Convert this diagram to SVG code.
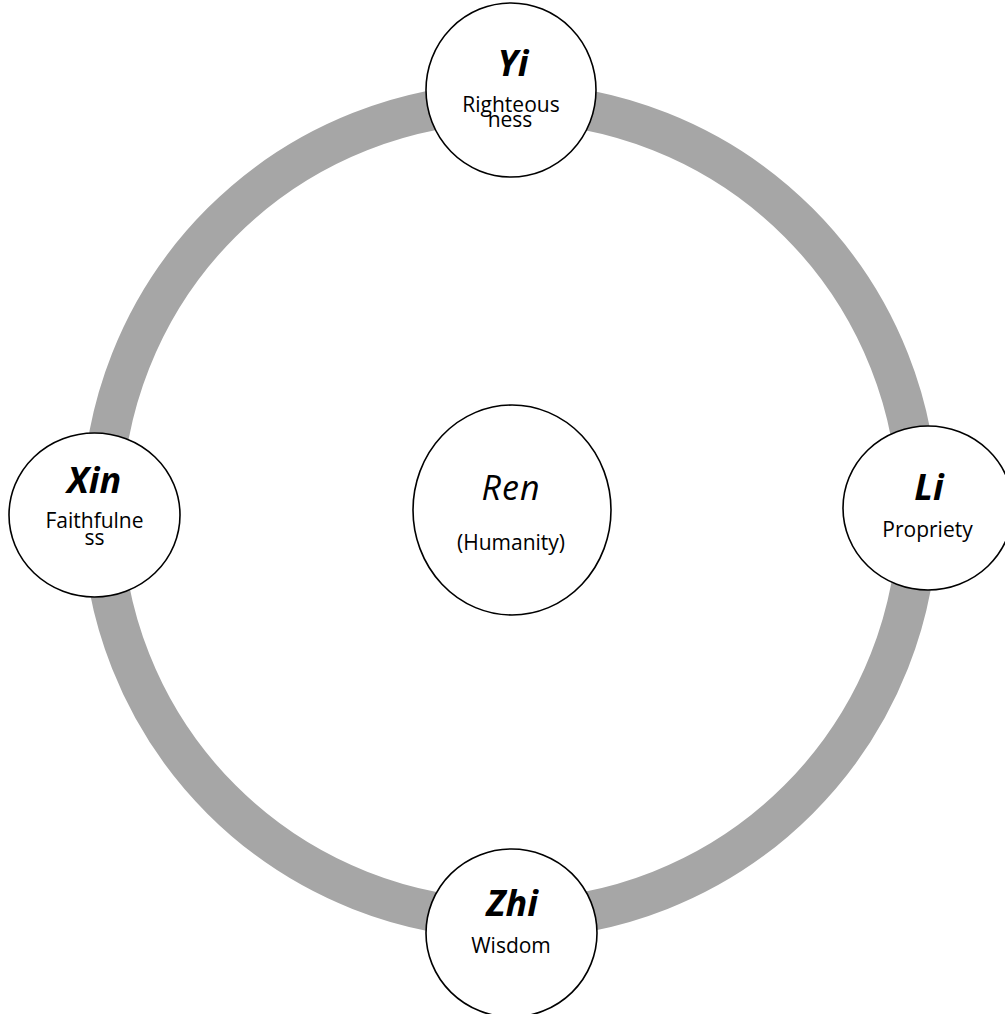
<svg xmlns="http://www.w3.org/2000/svg" width="1005" height="1014" viewBox="0 0 1005 1014">
<style>
.node{fill:#ffffff;stroke:#000000;stroke-width:1.6}
.t{font-family:"Open Sans","Noto Sans","DejaVu Sans",sans-serif;text-anchor:middle;fill:#000000}
.h{font-size:36px;font-weight:bold;font-style:italic}
.s{font-size:21px}
.ren{font-size:34px;font-style:italic;letter-spacing:1px}
.ring{fill:none;stroke:#a6a6a6;stroke-width:40}
</style>
<rect width="1005" height="1014" fill="#ffffff"/>
<g id="connectors">
<circle class="ring" cx="510" cy="511" r="408"/>
</g>
<g id="node-yi">
<ellipse class="node" cx="511" cy="90" rx="85" ry="87"/>
<text class="t h" x="513" y="76">Yi</text>
<text class="t s" x="511" y="112">Righteous</text>
<text class="t s" x="510" y="127">ness</text>
</g>
<g id="node-xin">
<ellipse class="node" cx="94.5" cy="515" rx="85.5" ry="82"/>
<text class="t h" x="94" y="493">Xin</text>
<text class="t s" x="94.5" y="528">Faithfulne</text>
<text class="t s" x="94.5" y="545">ss</text>
</g>
<g id="node-li">
<ellipse class="node" cx="928" cy="508" rx="85" ry="82"/>
<text class="t h" x="929" y="500">Li</text>
<text class="t s" x="927.5" y="537">Propriety</text>
</g>
<g id="node-zhi">
<ellipse class="node" cx="511.5" cy="933" rx="85.5" ry="84"/>
<text class="t h" x="512" y="916">Zhi</text>
<text class="t s" x="511" y="953">Wisdom</text>
</g>
<g id="node-ren">
<ellipse class="node" cx="512" cy="510" rx="99" ry="105"/>
<text class="t ren" x="511" y="500">Ren</text>
<text class="t s" x="511" y="550">(Humanity)</text>
</g>
</svg>
